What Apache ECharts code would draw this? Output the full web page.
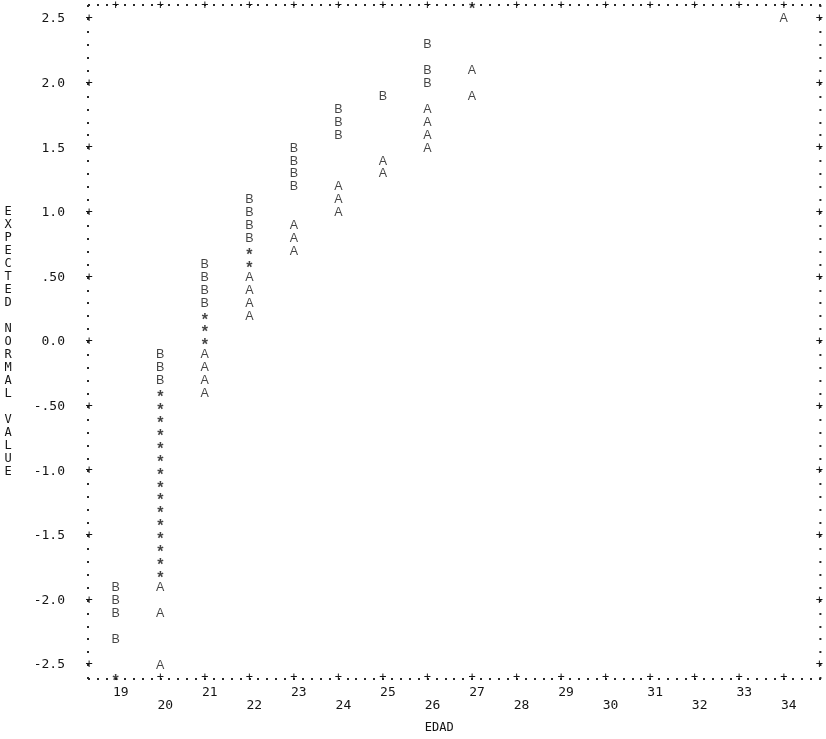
<!DOCTYPE html>
<html><head><meta charset="utf-8">
<script src="https://cdn.jsdelivr.net/npm/echarts@6/dist/echarts.min.js"></script>
<style>html,body{margin:0;padding:0;background:#fff}#c{width:826px;height:739px}</style>
</head><body><div id="c"></div>
<script>
// ---- data ----
const xTicks = [19,20,21,22,23,24,25,26,27,28,29,30,31,32,33,34];
const yTickValues = [2.5,2.0,1.5,1.0,0.5,0.0,-0.5,-1.0,-1.5,-2.0,-2.5];
const yTickLabels = ['2.5','2.0','1.5','1.0','.50','0.0','-.50','-1.0','-1.5','-2.0','-2.5'];

// group A
const agesA   = [20,20,20, 21,21,21,21, 22,22,22,22, 23,23,23, 24,24,24, 25,25, 26,26,26,26, 27,27, 34];
const valuesA = [-1.9,-2.1,-2.5, -0.1,-0.2,-0.3,-0.4, 0.5,0.4,0.3,0.2, 0.9,0.8,0.7, 1.2,1.1,1.0, 1.4,1.3, 1.8,1.7,1.6,1.5, 2.1,1.9, 2.5];
// group B
const agesB   = [19,19,19,19, 20,20,20, 21,21,21,21, 22,22,22,22, 23,23,23,23, 24,24,24, 25, 26,26,26];
const valuesB = [-1.9,-2.0,-2.1,-2.3, -0.1,-0.2,-0.3, 0.6,0.5,0.4,0.3, 1.1,1.0,0.9,0.8, 1.5,1.4,1.3,1.2, 1.8,1.7,1.6, 1.9, 2.3,2.1,2.0];
// both groups on the same spot (*)
const agesBoth   = [19, 20,20,20,20,20,20,20,20,20,20,20,20,20,20,20, 21,21,21, 22,22, 27];
const valuesBoth = [-2.6, -0.4,-0.5,-0.6,-0.7,-0.8,-0.9,-1.0,-1.1,-1.2,-1.3,-1.4,-1.5,-1.6,-1.7,-1.8, 0.2,0.1,0.0, 0.7,0.6, 2.6];

const xName = 'EDAD';
const yName = 'EXPECTED NORMAL VALUE';

// ---- chart ----
const X_MIN = 18.4, X_MAX = 34.8, Y_MIN = -2.6, Y_MAX = 2.6;
const INK = '#141414';
const MONO = '"DejaVu Sans Mono", monospace';
const SANS = '"Liberation Sans", Arial, sans-serif';

const pts = (a, v) => a.map((x, i) => [x, v[i]]);
const near = (a, b) => Math.abs(a - b) < 1e-6;
const starsOnRow = yv => agesBoth.filter((a, i) => near(valuesBoth[i], yv));
const bottomPlus = xTicks.filter(v => !starsOnRow(Y_MIN).includes(v));
const topPlus = xTicks.filter(v => !starsOnRow(Y_MAX).includes(v));

const dotTick = {show: true, length: 2, lineStyle: {width: 2, color: '#2a2a2a'}};
const plusLabel = (vals, isX) => Object.assign({
  show: true, customValues: vals, formatter: () => '+', margin: 0,
  fontFamily: MONO, fontSize: 12, color: INK
}, isX ? {verticalAlign: 'middle'} : {align: 'center'});

function xAx(pos, extra) {
  return Object.assign({type: 'value', min: X_MIN, max: X_MAX, position: pos,
    splitLine: {show: false}, axisLine: {show: false, onZero: false},
    axisTick: {show: false}, axisLabel: {show: false}}, extra);
}
function yAx(pos, extra) {
  return Object.assign({type: 'value', min: Y_MIN, max: Y_MAX, position: pos,
    splitLine: {show: false}, axisLine: {show: false, onZero: false},
    axisTick: {show: false}, axisLabel: {show: false}}, extra);
}

const letterSeries = (name, data, txt, extra) => Object.assign({
  type: 'scatter', name, data, symbolSize: 1, clip: false, silent: true,
  itemStyle: {color: 'rgba(0,0,0,0)'},
  label: Object.assign({show: true, position: 'inside', formatter: txt,
    fontFamily: SANS, fontSize: 12, color: INK}, extra || {})
});

const chart = echarts.init(document.getElementById('c'));
chart.setOption({
  backgroundColor: '#ffffff',
  animation: false,
  grid: {left: 89, right: 3, top: 4, bottom: 61},
  xAxis: [
    xAx('bottom', {interval: 0.2, axisTick: dotTick,
      axisLabel: {show: true, customValues: xTicks, margin: 8,
        formatter: v => (Math.round(v) % 2 === 0 ? '\n' : '') + Math.round(v),
        fontFamily: MONO, fontSize: 13, lineHeight: 13, color: INK, padding: [0, 0, 0, 10]},
      name: xName, nameLocation: 'middle', nameGap: 44,
      nameTextStyle: {fontFamily: MONO, fontSize: 12, color: INK, padding: [0, 30, 0, 0]}}),
    xAx('bottom', {axisLabel: plusLabel(bottomPlus, true)}),
    xAx('top', {interval: 0.2, axisTick: dotTick, axisLabel: plusLabel(topPlus, true)})
  ],
  yAxis: [
    yAx('left', {interval: 0.1, axisTick: dotTick,
      axisLabel: {show: true, customValues: yTickValues, margin: 24,
        formatter: v => { const i = yTickValues.findIndex(t => near(t, v)); return i >= 0 ? yTickLabels[i] : ''; },
        fontFamily: MONO, fontSize: 13, color: INK},
      name: yName.split('').map(c => c === ' ' ? '' : c).join('\n'),
      nameLocation: 'middle', nameRotate: 0, nameGap: 81,
      nameTextStyle: {fontFamily: MONO, fontSize: 12, lineHeight: 13, color: INK, align: 'center', padding: [0, 0, 56, 0]}}),
    yAx('left', {axisLabel: plusLabel(yTickValues, false)}),
    yAx('right', {interval: 0.1, axisTick: dotTick, axisLabel: plusLabel(yTickValues, false)})
  ],
  series: [
    letterSeries('A', pts(agesA, valuesA), 'A', {fontSize: 12.5}),
    letterSeries('B', pts(agesB, valuesB), 'B', {fontSize: 12.5}),
    letterSeries('*', pts(agesBoth, valuesBoth), '*', {fontWeight: 'bold', fontSize: 16, offset: [0, 4]})
  ]
});
</script></body></html>
